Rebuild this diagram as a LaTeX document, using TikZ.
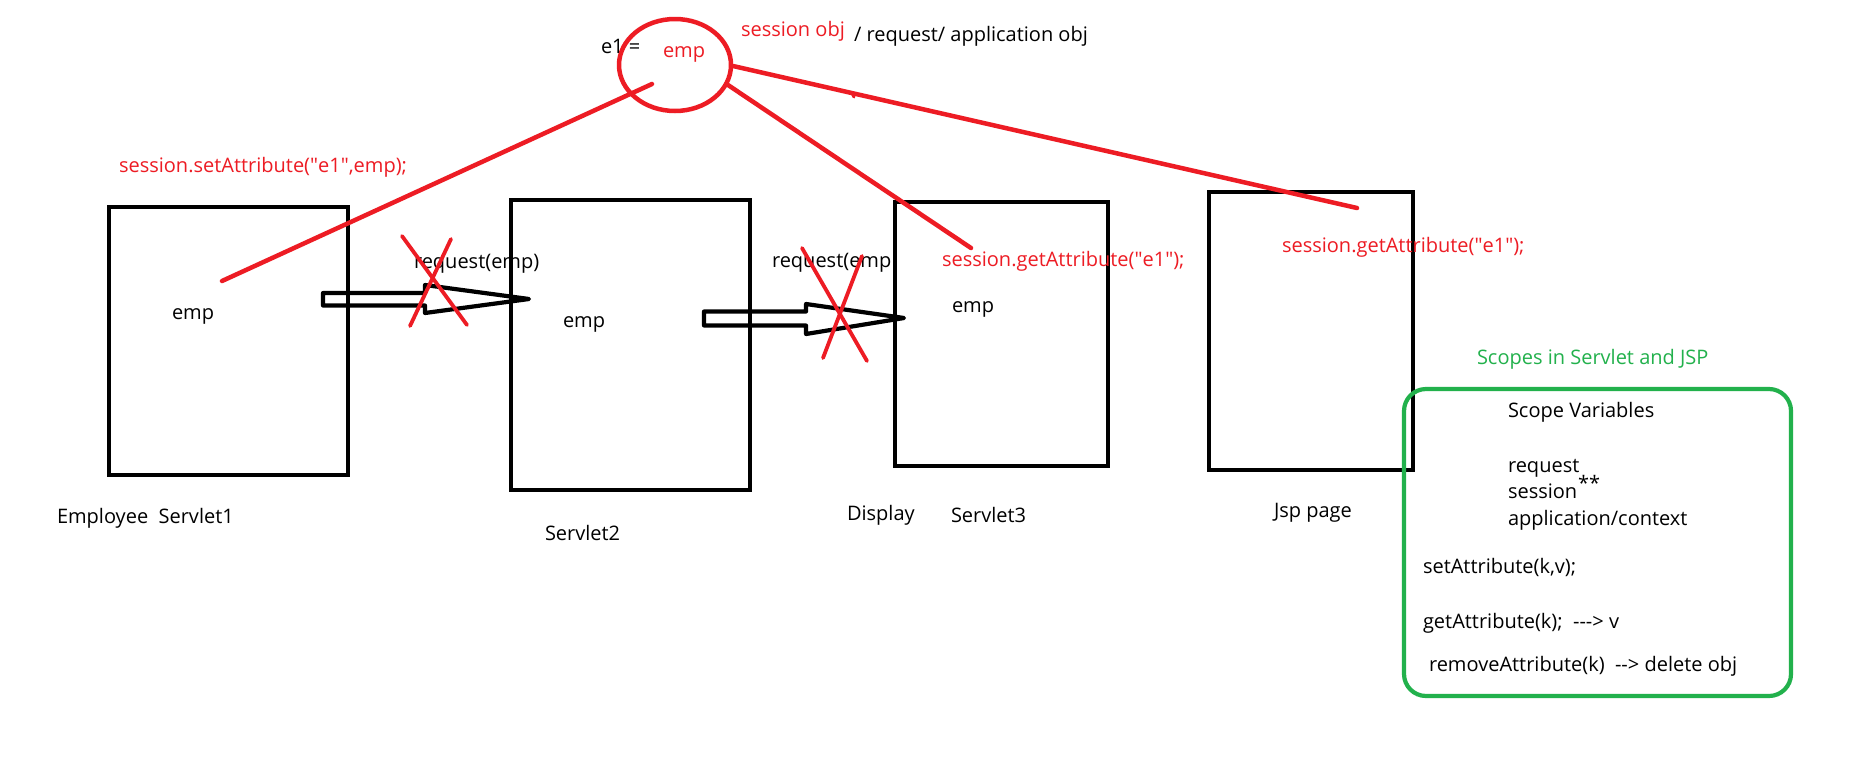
\documentclass[tikz,border=0pt]{standalone}
\usepackage{fontspec}
\setmainfont{Open Sans}
\usetikzlibrary{shapes.geometric}
\definecolor{pred}{HTML}{ED1C24}
\definecolor{pgreen}{HTML}{22B14C}
\newcommand{\dq}{\textquotedbl}
\begin{document}
\begin{tikzpicture}[x=1pt,y=-1pt,
  every node/.style={inner sep=0pt,outer sep=0pt,font=\fontsize{20}{24}\selectfont},
  lbl/.style={anchor=base west,text=black},
  rlbl/.style={anchor=base west,text=pred},
  glbl/.style={anchor=base west,text=pgreen},
  pagebox/.style={draw=black,line width=4.5pt,fill=none},
  redline/.style={draw=pred,line width=4.5pt,line cap=round},
  crossline/.style={draw=pred,line width=3.8pt,line cap=round},
  blockarrow/.style={draw=black,line width=4.2pt,line join=round}]
\useasboundingbox (0,0) rectangle (1866,769);
\fill[white] (0,0) rectangle (1866,769);

% page boxes
\node[pagebox,minimum width=239pt,minimum height=268pt] (s1) at (228.5,341) {};
\node[pagebox,minimum width=239pt,minimum height=290pt] (s2) at (630.5,345) {};
\node[pagebox,minimum width=213pt,minimum height=264pt] (s3) at (1001.5,334) {};
\node[pagebox,minimum width=204pt,minimum height=278pt] (jsp) at (1311,331) {};

% session object
\node[ellipse,draw=pred,line width=4.5pt,minimum width=112pt,minimum height=92pt] (obj) at (675,65) {};

% green scope box
\node[draw=pgreen,line width=4.2pt,rounded corners=22pt,minimum width=387pt,minimum height=307pt] (scope) at (1597.5,542.5) {};

% texts
\node[lbl] (e1) at (601,53) {e1 =};
\node[rlbl] (objemp) at (663,57) {emp};
\node[rlbl] (sessobj) at (741,36) {session obj};
\node[lbl] (reqapp) at (854,41) {/ request/ application obj};
\node[rlbl] (setattr) at (119,172) {session.setAttribute(\dq e1\dq,emp);};
\node[lbl] (emp1) at (172,319) {emp};
\node[lbl] (req1) at (414,268) {request(emp)};
\node[lbl] (n1) at (57,523) {Employee\ \ Servlet1};
\node[lbl] (emp2) at (563,327) {emp};
\node[lbl] (n2) at (545,540) {Servlet2};
\node[lbl] (req2) at (772,267) {request(emp};
\node[lbl] (disp) at (847,520) {Display};
\node[lbl] (n3) at (951,522) {Servlet3};
\node[rlbl] (get1) at (942,266) {session.getAttribute(\dq e1\dq);};
\node[rlbl] (get2) at (1282,252) {session.getAttribute(\dq e1\dq);};
\node[lbl] (emp3) at (952,312) {emp};
\node[lbl] (njsp) at (1274,517) {Jsp page};
\node[glbl] (title) at (1477,364) {Scopes in Servlet and JSP};
\node[lbl] (sv) at (1508,417) {Scope Variables};
\node[lbl] (sreq) at (1508,472) {request};
\node[lbl] (ssess) at (1508,498) {session};
\node[lbl] (stars) at (1578,490) {**};
\node[lbl] (sapp) at (1508,525) {application/context};
\node[lbl] (sset) at (1423,573) {setAttribute(k,v);};
\node[lbl] (sget) at (1423,628) {getAttribute(k);\ \ -{}-{}->\ v};
\node[lbl] (srem) at (1429,671) {removeAttribute(k)\ \ -{}->\ delete obj};

% connector end points
\coordinate (p1) at (222,281);
\coordinate (o1) at (652,84);
\coordinate (o2) at (728,85);
\coordinate (p3) at (971,248);
\coordinate (o3) at (733,66);
\coordinate (p4) at (1357,208);
\coordinate (tk1) at (852,93);
\coordinate (tk2) at (854,97);

% red session lines
\draw[redline] (p1) -- (o1);
\draw[redline] (o2) -- (p3);
\draw[redline] (o3) -- (p4);
\draw[redline,line width=3pt] (tk1) -- (tk2);

% block arrows
\draw[blockarrow] (323,293) -- (425,293) -- (425,285) -- (529,299) -- (425,313) -- (425,305.5) -- (323,305.5) -- cycle;
\draw[blockarrow] (704,311.5) -- (806,311.5) -- (806,304) -- (904,318) -- (806,334) -- (806,325.5) -- (704,325.5) -- cycle;

% red crosses
\coordinate (xa1) at (402,236); \coordinate (xa2) at (467,325);
\coordinate (xb1) at (451,239); \coordinate (xb2) at (410,326);
\draw[crossline] (xa1) -- (xa2);
\draw[crossline] (xb1) -- (xb2);
\coordinate (ya1) at (802,248); \coordinate (ya2) at (867,361);
\coordinate (yb1) at (862,256); \coordinate (yb2) at (823,358);
\draw[crossline] (ya1) -- (ya2);
\draw[crossline] (yb1) -- (yb2);
\end{tikzpicture}
\end{document}
